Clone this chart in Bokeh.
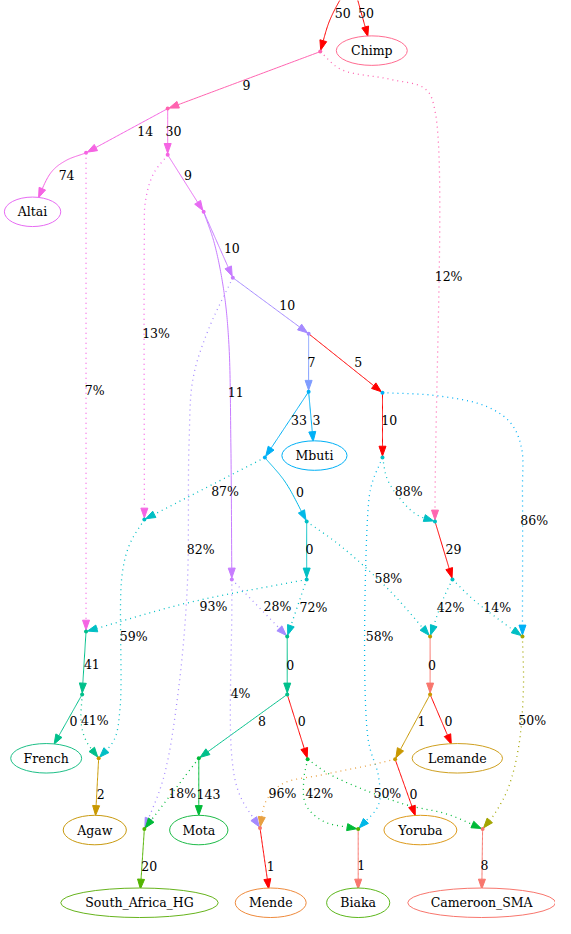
import numpy as np
from bokeh.plotting import figure
from bokeh.models import Range1d, ColumnDataSource
from bokeh.embed import file_html
from bokeh.resources import INLINE
from bokeh.core.properties import value

# ---------------- data ----------------
# internal (point) nodes of the admixture graph, layout coordinates
node_names = ["root", "A", "B", "C", "D", "E", "F", "G", "H", "I", "J", "K", "L", "M", "N",
              "O", "P", "Q", "R", "S", "T", "U", "V", "N2", "Q2", "W", "X", "AA", "S2", "Z",
              "Y", "BB", "CC"]
node_x = [362, 329, 172, 172, 88, 209, 239, 317, 317, 393, 393, 272, 148, 238, 88,
          315, 315, 295, 101, 442, 447, 465, 537, 84, 295, 204, 148, 316, 442, 406,
          267, 368, 496]
node_y = [-20, 52, 110, 157, 155, 215, 282, 339, 398, 399, 465, 465, 528, 589, 642,
          530, 589, 647, 771, 647, 530, 589, 647, 706, 706, 771, 843, 772, 706, 772,
          842, 843, 843]
node_colors = ["#FF0000", "#FF64B0", "#FF64B0", "#F564E3", "#F564E3", "#E76BF3", "#C77CFF",
               "#A58AFF", "#00B0F6", "#00B0F6", "#00BFC4", "#00B0F6", "#00BFC4", "#C77CFF",
               "#00C08B", "#00BFC4", "#00BFC4", "#00C08B", "#C99800", "#B79F00", "#00BFC4",
               "#00BFC4", "#A3A500", "#00C08B", "#00C08B", "#00BA38", "#53B400", "#00BA38",
               "#C99800", "#C99800", "#F8766D", "#53B400", "#F8766D"]

# leaf populations
leaf_names = ["Chimp", "Altai", "Mbuti", "French", "Agaw", "Mota", "South_Africa_HG",
              "Mende", "Biaka", "Cameroon_SMA", "Lemande", "Yoruba"]
leaf_x = [382, 33, 323, 47, 97, 204, 143, 278, 368, 495, 470, 432]
leaf_y = [51, 215, 463, 771, 844, 844, 918, 918, 918, 918, 771, 844]
leaf_colors = ["#FF6C91", "#E76BF3", "#00B0F6", "#1DBF87", "#C99A10", "#1DBB48", "#66B31C",
               "#EE8A3C", "#5DB71C", "#F8766D", "#CFA020", "#DD9A1B"]

# edges: source, target, label, admixture (dotted), colour
edge_src = ["root", "root", "A", "B", "B", "D", "C", "E", "E", "F", "G", "G", "I", "H", "H",
            "K", "O", "K", "C", "D", "A", "F", "M", "M", "P", "P", "O", "J", "J", "T", "U",
            "U", "I", "Q", "S", "V", "N", "N2", "N2", "L", "R", "Q2", "Q2", "W", "W", "X",
            "S2", "S2", "Z", "Z", "Y", "AA", "AA", "BB", "CC"]
edge_dst = ["A", "Chimp", "B", "C", "D", "Altai", "E", "F", "M", "G", "H", "I", "J", "Mbuti", "K",
            "O", "P", "L", "L", "N", "T", "X", "Q", "Y", "N", "Q", "S", "T", "BB", "U", "S",
            "V", "V", "Q2", "S2", "CC", "N2", "French", "R", "R", "Agaw", "W", "AA", "Mota", "X",
            "South_Africa_HG", "Z", "Lemande", "Yoruba", "Y", "Mende", "BB", "CC", "Biaka",
            "Cameroon_SMA"]
edge_label = ["50", "50", "9", "30", "14", "74", "9", "10", "11", "10", "7", "5", "10", "3", "33",
              "0", "0", "87%", "13%", "7%", "12%", "82%", "28%", "4%", "93%", "72%", "58%", "88%",
              "58%", "29", "42%", "14%", "86%", "0", "0", "50%", "41", "0", "41%", "59%", "2",
              "8", "0", "143", "18%", "20", "1", "0", "0", "96%", "1", "42%", "50%", "1", "8"]
edge_dotted = [False, False, False, False, False, False, False, False, False, False, False,
               False, False, False, False, False, False, True, True, True, True, True, True,
               True, True, True, True, True, True, False, True, True, True, False, False, True,
               False, False, True, True, False, False, False, False, True, False, False, False,
               False, True, False, True, True, False, False]
edge_color = ["#FF0000", "#FF0000", "#FF64B0", "#F564E3", "#F564E3", "#F564E3", "#E76BF3",
              "#C77CFF", "#C77CFF", "#A58AFF", "#7F9CFF", "#FF0000", "#FF0000", "#00B0F6",
              "#00B0F6", "#00B8E7", "#00BFC4", "#00BFC4", "#F564E3", "#F564E3", "#FF64B0",
              "#A58AFF", "#A58AFF", "#A58AFF", "#00BFC4", "#00BFC4", "#00BFC4", "#00BFC4",
              "#00B8E7", "#FF0000", "#00BFC4", "#00BFC4", "#00B0F6", "#00C08B", "#F8766D",
              "#A3A500", "#00C08B", "#00C08B", "#00C08B", "#00BFC4", "#C99800", "#00C08B",
              "#FF0000", "#00BA38", "#00BA38", "#53B400", "#C99800", "#FF0000", "#FF0000",
              "#E8A040", "#FF0000", "#00BA38", "#00BA38", "#F8766D", "#F8766D"]

# ---------------- layout (routing, label anchors, shapes) ----------------
edge_via = {
    0: [(349, 0), (338, 22)],
    5: [(67, 163), (52, 175)],
    8: [(220, 247), (230, 297), (235, 350), (237, 450)],
    15: [(293, 490)],
    18: [(157, 177), (149, 205), (148, 240)],
    20: [(350, 70), (400, 80), (437, 90), (447, 112)],
    21: [(213, 337), (198, 385), (194, 450), (192, 600), (182, 710), (168, 790)],
    23: [(238, 620), (238, 770), (246, 808)],
    24: [(192, 613)],
    26: [(350, 555), (400, 600)],
    27: [(398, 487), (412, 508), (428, 523)],
    28: [(382, 492), (378, 520), (378, 750), (389, 790), (389, 818)],
    30: [(455, 610)],
    31: [(487, 610), (513, 630)],
    32: [(448, 402), (500, 413), (525, 430), (536, 455), (537, 500)],
    35: [(538, 700), (533, 760), (522, 802), (508, 828)],
    38: [(83, 735), (88, 753)],
    39: [(133, 553), (125, 585), (123, 720), (117, 752)],
    49: [(380, 778), (330, 788), (290, 797), (273, 815)],
    51: [(312, 793), (314, 818), (332, 835)],
    52: [(340, 788), (413, 817), (460, 828)],
}
label_pos = [(352, 13), (376, 13), (253, 86), (178, 133), (149, 133), (68, 178), (193, 178),
             (238, 252), (242, 398), (295, 310), (320, 368), (368, 368), (400, 427), (325, 427),
             (307, 427), (308, 500), (318, 558), (231, 500), (160, 339), (97, 397), (461, 281),
             (206, 559), (285, 617), (247, 705), (219, 617), (322, 618), (399, 588), (420, 500),
             (390, 647), (466, 558), (463, 618), (511, 618), (549, 529), (298, 676), (444, 676),
             (547, 733), (94, 675), (75, 733), (97, 733), (137, 647), (103, 807), (269, 733),
             (310, 733), (214, 807), (187, 807), (153, 881), (433, 733), (461, 733), (425, 807),
             (290, 807), (278, 881), (328, 807), (398, 807), (371, 880), (498, 880)]
leaf_w = [73, 58, 67, 73, 65, 60, 162, 73, 65, 152, 93, 75]
leaf_h = 30
ARROW_LEN, ARROW_HALF = 10.0, 3.6
FONT = value("DejaVu Serif")

pos = {n: (x, y) for n, x, y in zip(node_names, node_x, node_y)}
leaf_info = {}
for n, x, y, w in zip(leaf_names, leaf_x, leaf_y, leaf_w):
    pos[n] = (x, y)
    leaf_info[n] = (x, y, w / 2.0, leaf_h / 2.0)


def cr_segment(p0, p1, p2, p3, n=24):
    def tj(ti, a, b):
        d = np.hypot(*(b - a))
        return ti + max(d, 1e-6) ** 0.5
    t0 = 0.0
    t1 = tj(t0, p0, p1)
    t2 = tj(t1, p1, p2)
    t3 = tj(t2, p2, p3)
    t = np.linspace(t1, t2, n, endpoint=False)[:, None]
    A1 = (t1 - t) / (t1 - t0) * p0 + (t - t0) / (t1 - t0) * p1
    A2 = (t2 - t) / (t2 - t1) * p1 + (t - t1) / (t2 - t1) * p2
    A3 = (t3 - t) / (t3 - t2) * p2 + (t - t2) / (t3 - t2) * p3
    B1 = (t2 - t) / (t2 - t0) * A1 + (t - t0) / (t2 - t0) * A2
    B2 = (t3 - t) / (t3 - t1) * A2 + (t - t1) / (t3 - t1) * A3
    return (t2 - t) / (t2 - t1) * B1 + (t - t1) / (t2 - t1) * B2


def build_path(pts):
    pts = np.array(pts, dtype=float)
    if len(pts) == 2:
        s = np.linspace(0, 1, 60)[:, None]
        return pts[0] + s * (pts[1] - pts[0])
    P = np.vstack([2 * pts[0] - pts[1], pts, 2 * pts[-1] - pts[-2]])
    segs = [cr_segment(P[i - 1], P[i], P[i + 1], P[i + 2]) for i in range(1, len(P) - 2)]
    return np.vstack(segs + [pts[-1:]])


def point_at(path, s_cum, s):
    i = np.searchsorted(s_cum, s)
    i = min(max(i, 1), len(path) - 1)
    f = (s - s_cum[i - 1]) / max(s_cum[i] - s_cum[i - 1], 1e-9)
    return path[i - 1] + f * (path[i] - path[i - 1]), i


solid_x, solid_y, solid_c = [], [], []
dot_x, dot_y, dot_c = [], [], []
arr_x, arr_y, arr_c = [], [], []

for k, (s, d) in enumerate(zip(edge_src, edge_dst)):
    pts = [pos[s]] + edge_via.get(k, []) + [pos[d]]
    path = build_path(pts)
    if d in leaf_info:
        cx, cy, rx, ry = leaf_info[d]
        inside = ((path[:, 0] - cx) / rx) ** 2 + ((path[:, 1] - cy) / ry) ** 2 <= 1
        j = int(np.argmax(inside))
        path = np.vstack([path[:j], path[j:j + 1]])
    seg = np.hypot(*np.diff(path, axis=0).T)
    s_cum = np.concatenate([[0], np.cumsum(seg)])
    L = s_cum[-1]
    if d not in leaf_info:
        L = L - 1.5
    tip, it = point_at(path, s_cum, L)
    base, ib = point_at(path, s_cum, L - ARROW_LEN)
    line = np.vstack([path[:ib], base[None, :]])
    dvec = (tip - base) / np.hypot(*(tip - base))
    perp = np.array([-dvec[1], dvec[0]])
    tri = np.array([tip, base + perp * ARROW_HALF, base - perp * ARROW_HALF])
    if edge_dotted[k]:
        dot_x.append(line[:, 0].tolist()); dot_y.append(line[:, 1].tolist()); dot_c.append(edge_color[k])
    else:
        solid_x.append(line[:, 0].tolist()); solid_y.append(line[:, 1].tolist()); solid_c.append(edge_color[k])
    arr_x.append(tri[:, 0].tolist()); arr_y.append(tri[:, 1].tolist()); arr_c.append(edge_color[k])

# ---------------- figure ----------------
p = figure(width=555, height=918, output_backend="svg", toolbar_location=None,
           x_range=Range1d(0, 571), y_range=Range1d(934, 0), min_border=0)
p.axis.visible = False
p.grid.visible = False
p.outline_line_color = None
p.background_fill_color = "white"

p.multi_line(xs=solid_x, ys=solid_y, line_color=solid_c, line_width=1.0)
p.multi_line(xs=dot_x, ys=dot_y, line_color=dot_c, line_width=1.3, line_dash="1 4")
p.patches(xs=arr_x, ys=arr_y, fill_color=arr_c, line_color=arr_c, line_width=1)

p.scatter(x=node_x, y=node_y, size=4, color=node_colors, line_color=None)

p.ellipse(x=leaf_x, y=leaf_y, width=leaf_w, height=[leaf_h] * len(leaf_x),
          fill_color="white", line_color=leaf_colors, line_width=1.0)
p.text(x=leaf_x, y=leaf_y, text=leaf_names, text_font=FONT,
       text_font_size="12.5px", text_font_style="normal",
       text_align="center", text_baseline="middle", text_color="black")

lab = ColumnDataSource(dict(x=[q[0] for q in label_pos], y=[q[1] for q in label_pos], t=edge_label))
p.text(x="x", y="y", text="t", source=lab, text_font=FONT,
       text_font_size="12.5px", text_font_style="normal",
       text_align="center", text_baseline="middle", text_color="black")

open("out.html", "w").write(file_html(p, INLINE))
